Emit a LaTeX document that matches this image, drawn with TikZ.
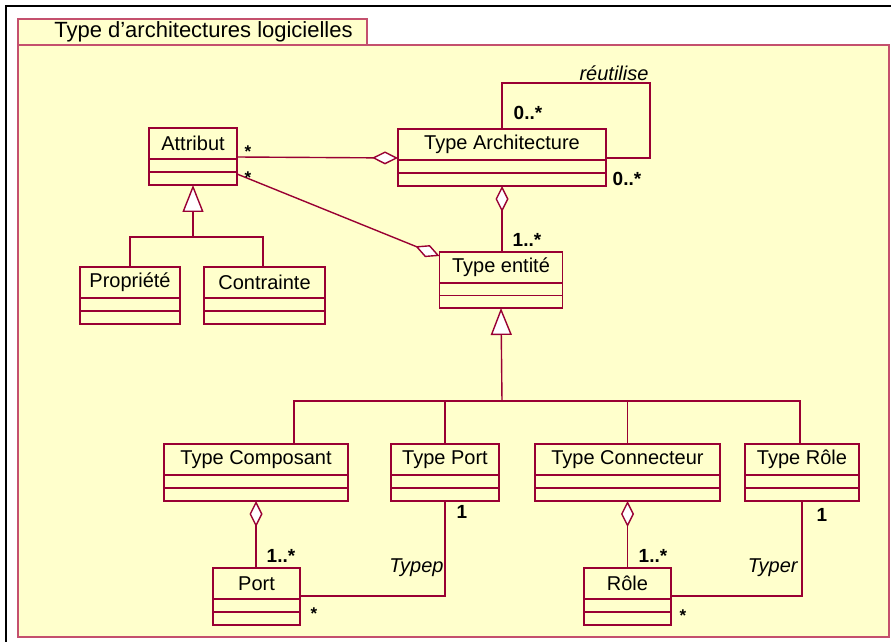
\documentclass[tikz,border=0pt]{standalone}
\usepackage{fontspec}
\setmainfont{Liberation Sans}
\usetikzlibrary{positioning,arrows.meta}
\definecolor{umlfill}{RGB}{255,255,204}
\definecolor{umlline}{RGB}{153,0,51}
\definecolor{pkgline}{RGB}{196,80,110}

\begin{document}
\begin{tikzpicture}[
    x=0.5pt, y=-0.5pt,
    pkgbox/.style={rectangle, draw=pkgline, fill=umlfill, line width=0.7pt, anchor=north west, inner sep=0pt, outer sep=0pt},
    clshead/.style={rectangle, draw=umlline, fill=umlfill, line width=0.8pt, anchor=north, inner sep=0pt, outer sep=0pt, minimum height=15.5pt, font=\fontsize{10}{12}\selectfont},
    clsbody/.style={rectangle, draw=umlline, fill=umlfill, line width=0.8pt, inner sep=0pt, outer sep=0pt, minimum height=13pt,
        path picture={\draw[umlline, line width=0.8pt] (path picture bounding box.west) -- (path picture bounding box.east);}},
    assoc/.style={color=umlline, line width=0.7pt},
    agg/.style={assoc, {Diamond[length=13pt, width=6.5pt, fill=white]}-},
    inherit/.style={assoc, -{Triangle[length=13.5pt, width=10.5pt, fill=white]}},
    mult/.style={font=\fontsize{9.5}{11}\selectfont\bfseries, inner sep=0pt},
    star/.style={font=\fontsize{8.5}{9}\selectfont\bfseries, inner sep=0pt},
    rolename/.style={font=\fontsize{10}{12}\selectfont\itshape, inner sep=0pt}
]
\useasboundingbox (0,0) rectangle (891,642);

% Frame and package
\draw[line width=1.2pt] (6,642) -- (6,6) -- (891,6);
\node[pkgbox, minimum width=435.5pt, minimum height=296pt] (pkg) at (18,45) {};
\node[pkgbox, minimum width=174.5pt, minimum height=13pt, font=\fontsize{11}{13}\selectfont] (pkgtab) at (18,19) {\hspace*{11pt}Type d’architectures logicielles};

% Attribut and its subclasses
\node[clshead, minimum width=44pt] (attr) at (193,128) {Attribut};
\node[clsbody, minimum width=44pt, below=0pt of attr] (attrB) {};
\node[clshead, minimum width=50pt] (prop) at (130,267) {Propriété};
\node[clsbody, minimum width=50pt, below=0pt of prop] (propB) {};
\node[clshead, minimum width=60.5pt] (contr) at (264.5,267) {Contrainte};
\node[clsbody, minimum width=60.5pt, below=0pt of contr] (contrB) {};

% Type Architecture
\node[clshead, minimum width=104pt] (archi) at (502,129) {Type Architecture};
\node[clsbody, minimum width=104pt, below=0pt of archi] (archiB) {};

% Type entite
\node[clshead, minimum width=61.5pt] (entite) at (501,252) {Type entité};
\node[clsbody, minimum width=61.5pt, minimum height=12.5pt, below=0pt of entite] (entiteB) {};

% Kinds of entities
\node[clshead, minimum width=92pt] (tcomp) at (256,444) {Type Composant};
\node[clsbody, minimum width=92pt, below=0pt of tcomp] (tcompB) {};
\node[clshead, minimum width=54pt] (tport) at (445,444) {Type Port};
\node[clsbody, minimum width=54pt, below=0pt of tport] (tportB) {};
\node[clshead, minimum width=92.5pt] (tconn) at (627.5,444) {Type Connecteur};
\node[clsbody, minimum width=92.5pt, below=0pt of tconn] (tconnB) {};
\node[clshead, minimum width=57pt] (trole) at (802,444) {Type Rôle};
\node[clsbody, minimum width=57pt, below=0pt of trole] (troleB) {};

% Instances
\node[clshead, minimum width=43.5pt] (port) at (256.5,568) {Port};
\node[clsbody, minimum width=43.5pt, below=0pt of port] (portB) {};
\node[clshead, minimum width=43.5pt] (role) at (627.5,568) {Rôle};
\node[clsbody, minimum width=43.5pt, below=0pt of role] (roleB) {};

% Generalisations
\coordinate (genA) at (193,237);
\coordinate (genE) at (502,401);
\draw[inherit] (genA) -- (attrB.south);
\draw[assoc] (prop.north) |- (genA);
\draw[assoc] ([xshift=-0.75pt]contr.north) |- (genA);
\draw[inherit] (genE) -- (entiteB.south);
\draw[assoc] ([xshift=19pt]tcomp.north) |- (genE);
\draw[assoc] (tport.north) |- (genE);
\draw[assoc] (tconn.north) |- (genE);
\draw[assoc] ([xshift=-1pt]trole.north) |- (genE);

% Aggregations
\draw[agg] ([yshift=1pt]archi.south west) -- ([yshift=1pt]attr.south east);
\draw[agg] ([yshift=-2pt]entite.north west) -- ([yshift=-1pt]attrB.east);
\draw[agg] (archiB.south) -- (archiB.south |- entite.north);
\draw[agg] (tcompB.south) -- (tcompB.south |- port.north);
\draw[agg] (tconnB.south) -- (tconnB.south |- role.north);

% Reuse loop
\coordinate (loop) at (650,83);
\draw[assoc] (archi.north) |- (loop) |- ([yshift=1pt]archi.south east);

% Typing associations
\draw[assoc] ([yshift=1.5pt]port.south east) -| (tportB.south);
\draw[assoc] ([yshift=1.5pt]role.south east) -| (troleB.south);

% Multiplicities and role names
\node[rolename] (reut) at (614,73) {réutilise};
\node[mult] (m1) at (528,113) {0..*};
\node[mult] (m2) at (627,179) {0..*};
\node[mult] (m3) at (527,240) {1..*};
\node[star] (s1) at (248,152) {*};
\node[star] (s2) at (248,178) {*};
\node[mult] (m4) at (281,556) {1..*};
\node[mult] (m5) at (462,512) {1};
\node[star] (s3) at (314,614) {*};
\node[rolename, anchor=east] (typep) at (444,568) {Typep};
\node[mult] (m6) at (653,556) {1..*};
\node[mult] (m7) at (822,515) {1};
\node[star] (s4) at (683,616) {*};
\node[rolename, anchor=east] (typer) at (798,568) {Typer};

\end{tikzpicture}
\end{document}
